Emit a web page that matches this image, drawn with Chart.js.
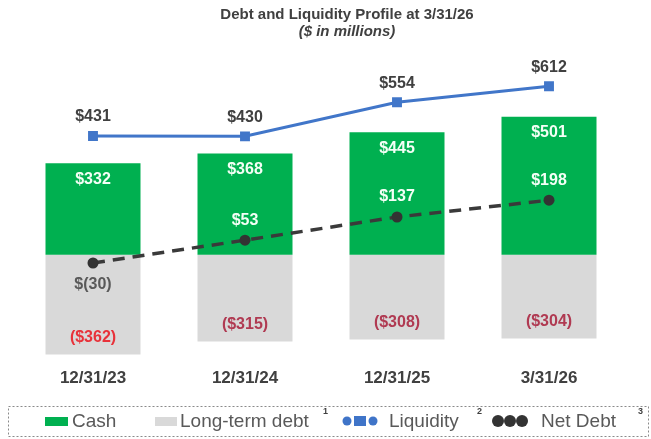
<!DOCTYPE html>
<html>
<head>
<meta charset="utf-8">
<script src="https://cdn.jsdelivr.net/npm/chart.js@4.4.1/dist/chart.umd.min.js"></script>
<style>
  html, body { margin: 0; padding: 0; background: #fff; }
  #wrap { width: 651px; height: 439px; }
</style>
</head>
<body>
<div id="wrap"><canvas id="debtChart" width="651" height="439"></canvas></div>
<script>
const categories = ['12/31/23', '12/31/24', '12/31/25', '3/31/26'];
const cash = [332, 368, 445, 501];
const longTermDebt = [-362, -315, -308, -304];
const liquidity = [431, 430, 554, 612];
const netDebt = [-30, 53, 137, 198];

const debtLabelColors = ['#e8323a', '#b03a52', '#b03a52', '#b03a52'];
const FONT = '"Liberation Sans", Arial, sans-serif';

const fmt = v => '$' + v;
const fmtParen = v => '($' + Math.abs(v) + ')';
const fmtNet = v => v < 0 ? '$(' + Math.abs(v) + ')' : '$' + v;

// value labels, titles and the dashed legend box
const decorations = {
    id: 'decorations',
    afterDatasetsDraw(chart) {
        const ctx = chart.ctx;
        ctx.save();
        ctx.textAlign = 'center';
        ctx.textBaseline = 'middle';

        const liqMeta = chart.getDatasetMeta(0);
        const ndMeta = chart.getDatasetMeta(1);
        const cashMeta = chart.getDatasetMeta(2);
        const debtMeta = chart.getDatasetMeta(3);

        ctx.font = 'bold 16px ' + FONT;
        cashMeta.data.forEach((bar, i) => {
            ctx.fillStyle = '#f4fff6';
            ctx.fillText(fmt(cash[i]), bar.x, bar.y + 16);
        });
        debtMeta.data.forEach((bar, i) => {
            ctx.fillStyle = debtLabelColors[i];
            ctx.fillText(fmtParen(longTermDebt[i]), bar.x, bar.y - 17);
        });
        liqMeta.data.forEach((pt, i) => {
            ctx.fillStyle = '#404040';
            ctx.fillText(fmt(liquidity[i]), pt.x, pt.y - 19);
        });
        ndMeta.data.forEach((pt, i) => {
            const v = netDebt[i];
            if (v < 0) {
                ctx.fillStyle = '#595959';
                ctx.fillText(fmtNet(v), pt.x, pt.y + 22);
            } else {
                ctx.fillStyle = '#f4fff6';
                ctx.fillText(fmtNet(v), pt.x, pt.y - 20);
            }
        });

        // title
        ctx.fillStyle = '#404040';
        ctx.font = 'bold 15px ' + FONT;
        ctx.fillText('Debt and Liquidity Profile at 3/31/26', 347, 15);
        ctx.font = 'italic bold 15px ' + FONT;
        ctx.fillText('($ in millions)', 347, 32);

        // legend
        ctx.strokeStyle = '#8a8a8a';
        ctx.lineWidth = 1;
        ctx.setLineDash([2, 2]);
        ctx.strokeRect(8.5, 406.5, 640, 30);
        ctx.setLineDash([]);

        const ly = 421;
        ctx.textAlign = 'left';
        ctx.font = '19px ' + FONT;
        ctx.fillStyle = '#00b050';
        ctx.fillRect(45, ly - 4, 23, 9);
        ctx.fillStyle = '#595959';
        ctx.fillText('Cash', 72, ly + 1);

        ctx.fillStyle = '#d9d9d9';
        ctx.fillRect(155, ly - 4, 22, 9);
        ctx.fillStyle = '#595959';
        ctx.fillText('Long-term debt', 180, ly + 1);

        ctx.fillStyle = '#3f74c8';
        [347, 373].forEach(cx => {
            ctx.beginPath(); ctx.arc(cx, ly, 4.5, 0, Math.PI * 2); ctx.fill();
        });
        ctx.fillRect(354, ly - 5, 12, 10);
        ctx.fillStyle = '#595959';
        ctx.fillText('Liquidity', 389, ly + 1);

        ctx.fillStyle = '#333333';
        [498, 510, 522].forEach(cx => {
            ctx.beginPath(); ctx.arc(cx, ly, 6, 0, Math.PI * 2); ctx.fill();
        });
        ctx.fillStyle = '#595959';
        ctx.fillText('Net Debt', 541, ly + 1);

        ctx.font = 'bold 9px ' + FONT;
        ctx.fillStyle = '#404040';
        ctx.fillText('1', 323, 412);
        ctx.fillText('2', 477, 412);
        ctx.fillText('3', 638, 412);
        ctx.restore();
    }
};

new Chart(document.getElementById('debtChart'), {
    type: 'bar',
    data: {
        labels: categories,
        datasets: [
            {
                type: 'line',
                label: 'Liquidity',
                data: liquidity,
                stack: 'liq',
                order: 1,
                borderColor: '#4176c9',
                backgroundColor: '#4176c9',
                borderWidth: 3,
                pointStyle: 'rect',
                pointRadius: 7,
                pointBorderWidth: 0,
                tension: 0
            },
            {
                type: 'line',
                label: 'Net Debt',
                data: netDebt,
                stack: 'nd',
                order: 1,
                borderColor: '#3a3a3a',
                backgroundColor: '#333333',
                borderWidth: 3.5,
                borderDash: [12, 8],
                pointRadius: 5.5,
                pointBorderWidth: 0,
                tension: 0
            },
            {
                label: 'Cash',
                data: cash,
                stack: 'bars',
                order: 2,
                backgroundColor: '#00b050'
            },
            {
                label: 'Long-term debt',
                data: longTermDebt,
                stack: 'bars',
                order: 2,
                backgroundColor: '#d9d9d9'
            }
        ]
    },
    options: {
        responsive: false,
        animation: false,
        layout: { padding: { left: 17, right: 26, top: 62, bottom: 46 } },
        datasets: { bar: { barPercentage: 0.625, categoryPercentage: 1 } },
        scales: {
            x: {
                stacked: true,
                grid: { display: false },
                border: { display: false },
                ticks: {
                    color: '#404040',
                    font: { family: FONT, size: 17, weight: 'bold' },
                    padding: 4
                }
            },
            y: {
                stacked: true,
                display: false,
                min: -370,
                max: 700
            }
        },
        plugins: {
            legend: { display: false },
            tooltip: { enabled: false },
            title: { display: false }
        }
    },
    plugins: [decorations]
});
</script>
</body>
</html>
